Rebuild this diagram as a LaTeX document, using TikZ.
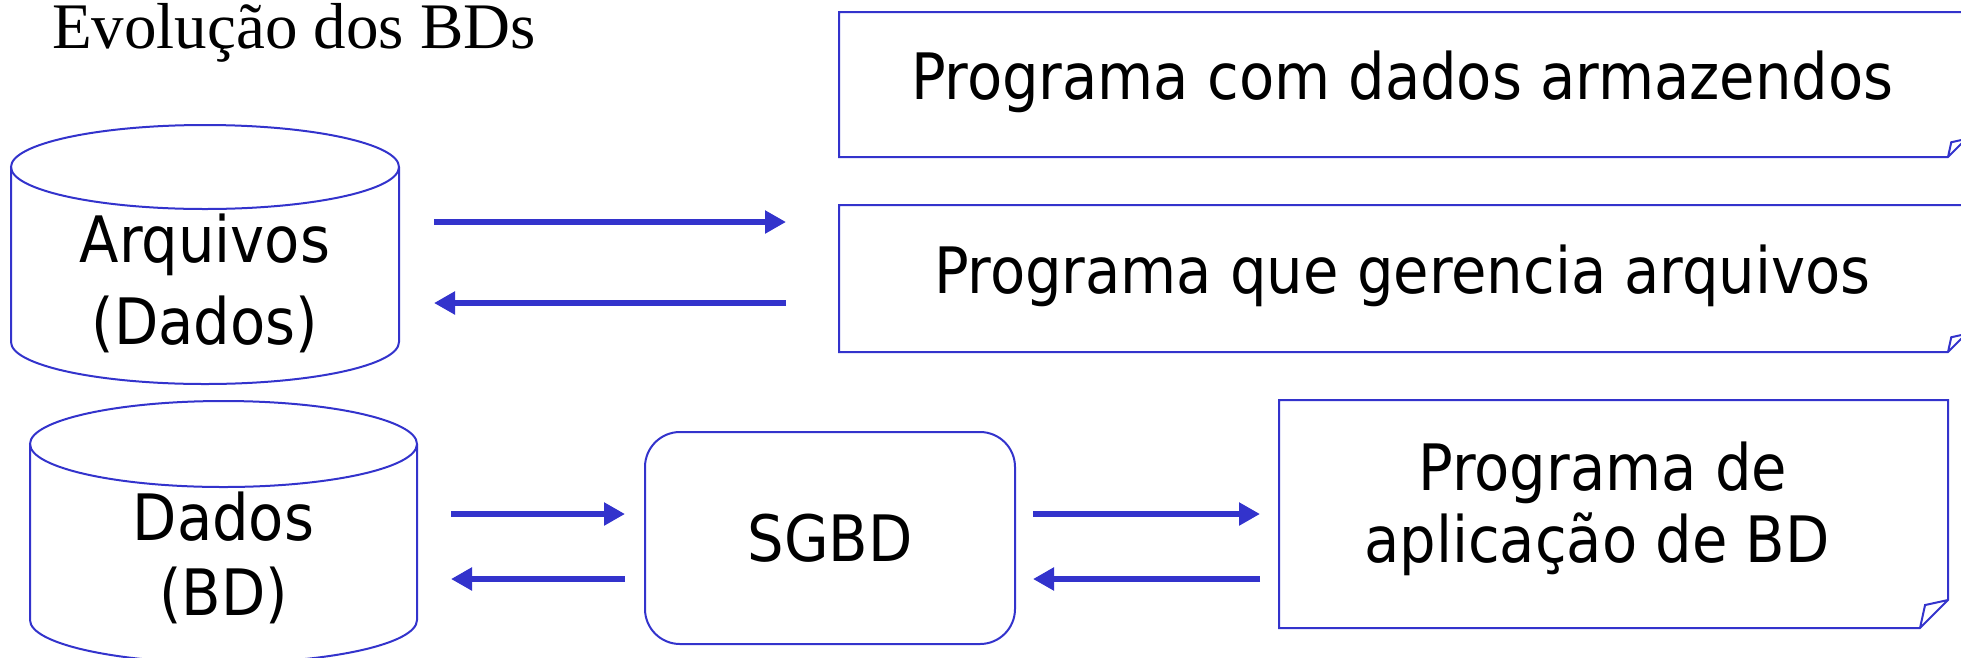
\documentclass[tikz,border=0pt]{standalone}
\usepackage{fontspec}
\setmainfont{Liberation Serif}
\newfontfamily\labelfont{DejaVu Sans Condensed}
\usetikzlibrary{arrows.meta}
\definecolor{lineblue}{HTML}{3333CC}
\begin{document}
\begin{tikzpicture}[x=1pt,y=-1pt,
  outline/.style={draw=lineblue, line width=2pt, line join=miter},
  frame/.style={inner sep=0pt, outer sep=0pt},
  txt/.style={font=\labelfont\fontsize{64}{75}\selectfont, text=black, inner sep=0pt, anchor=base},
  arr/.style={draw=lineblue, line width=6.5pt, -{Triangle[length=21pt 0 0,width=22pt 0 0]}},
]
\useasboundingbox (0,0) rectangle (1961,657);
\clip (0,0) rectangle (1961,657);

% title
\node[anchor=base west, inner sep=0pt, font=\fontsize{65}{70}\selectfont] (title) at (52,48) {Evolução dos BDs};

% frames of the shapes
\node[frame, minimum width=388, minimum height=259] (cylA) at (205,254.5) {};
\node[frame, minimum width=387, minimum height=262] (cylB) at (223.5,532) {};
\node[frame, minimum width=1127, minimum height=145] (p1) at (1402.5,84.5) {};
\node[frame, minimum width=1127, minimum height=147] (p2) at (1402.5,278.5) {};
\node[frame, minimum width=669, minimum height=228] (p3) at (1613.5,514) {};

% cylinders
\draw[outline] ([yshift=-42pt]cylA.north) ellipse [x radius=194, y radius=42];
\draw[outline] ([yshift=-42pt]cylA.north west) -- ([yshift=42pt]cylA.south west)
  arc[start angle=180, end angle=0, x radius=194, y radius=42] -- ([yshift=-42pt]cylA.north east);
\draw[outline] ([yshift=-43pt]cylB.north) ellipse [x radius=193.5, y radius=43];
\draw[outline] ([yshift=-43pt]cylB.north west) -- ([yshift=43pt]cylB.south west)
  arc[start angle=180, end angle=0, x radius=193.5, y radius=43] -- ([yshift=-43pt]cylB.north east);

% boxes with a folded corner
\foreach \b/\f/\g in {p1/18/14.76, p2/18/14.76, p3/28/22.96}{
  \draw[outline] (\b.north west) -- (\b.north east) -- ([yshift=\f pt]\b.south east)
    -- ([xshift=-\f pt]\b.south east) -- (\b.south west) -- cycle;
  \draw[outline] ([xshift=-\f pt]\b.south east) -- ([xshift=-\g pt,yshift=\g pt]\b.south east)
    -- ([yshift=\f pt]\b.south east);
}

% rounded box
\node[draw=lineblue, line width=2pt, rounded corners=35pt, minimum width=370, minimum height=212,
  font=\labelfont\fontsize{64}{75}\selectfont] (sgbd) at (830,538) {SGBD};

% texts
\node[txt] (cylA1) at (205,262) {Arquivos};
\node[txt] (cylA2) at (205,344) {(Dados)};
\node[txt] (cylB1) at (223.5,540) {Dados};
\node[txt] (cylB2) at (223.5,615) {(BD)};
\node[txt] (p1t) at (1402.5,99) {Programa com dados armazendos};
\node[txt] (p2t) at (1402.5,293) {Programa que gerencia arquivos};
\node[txt] (p3a) at (1603,490) {Programa de};
\node[txt] (p3b) at (1597,562) {aplicação de BD};

% arrows
\coordinate (rowA) at (0,222);
\coordinate (rowB) at (0,303);
\coordinate (rowC) at (0,514);
\coordinate (rowD) at (0,579);
\draw[arr, shorten <=35pt, shorten >=53pt] (cylA.east |- rowA) -- (p1.west |- rowA);
\draw[arr, shorten <=53pt, shorten >=35pt] (p2.west |- rowB) -- (cylA.east |- rowB);
\draw[arr, shorten <=34pt, shorten >=19pt] (cylB.east |- rowC) -- (sgbd.west |- rowC);
\draw[arr, shorten <=19pt, shorten >=34pt] (sgbd.west |- rowD) -- (cylB.east |- rowD);
\draw[arr, shorten <=17pt, shorten >=19pt] (sgbd.east |- rowC) -- (p3.west |- rowC);
\draw[arr, shorten <=19pt, shorten >=17pt] (p3.west |- rowD) -- (sgbd.east |- rowD);
\end{tikzpicture}
\end{document}
